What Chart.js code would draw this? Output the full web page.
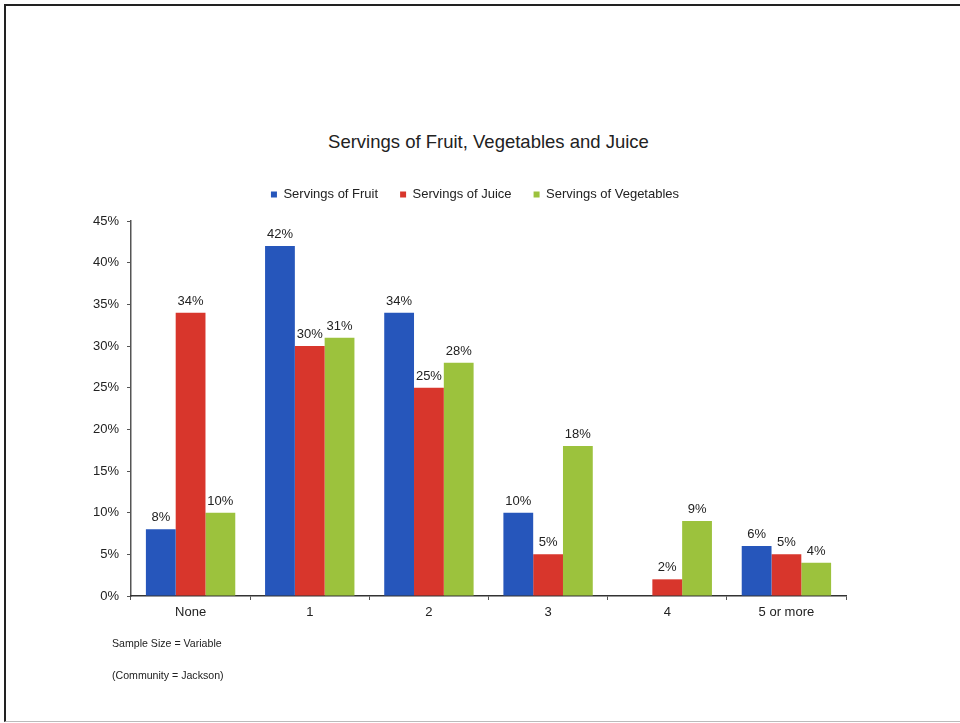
<!DOCTYPE html>
<html>
<head>
<meta charset="utf-8">
<script src="https://cdn.jsdelivr.net/npm/chart.js@4"></script>
<style>
  html, body { margin: 0; padding: 0; background: #fff; }
  body { width: 960px; height: 723px; position: relative; overflow: hidden; font-family: "Liberation Sans", Arial, sans-serif; }
  #frame { position: absolute; left: 4px; top: 4px; width: 960px; height: 715px; border-left: 2px solid #222; border-top: 2px solid #222; border-bottom: 1px solid #bbb; }
  #title { position: absolute; left: 0; width: 977px; top: 131px; text-align: center; font-size: 18.5px; color: #222; }
  .note { position: absolute; left: 112px; font-size: 10.6px; color: #222; }
  #wrap { position: absolute; left: 0; top: 0; width: 960px; height: 723px; }
</style>
</head>
<body>
<div id="frame"></div>
<div id="title">Servings of Fruit, Vegetables and Juice</div>
<div id="wrap"><canvas id="servingsChart" width="960" height="723"></canvas></div>
<div class="note" style="top:637px">Sample Size = Variable</div>
<div class="note" style="top:669px">(Community = Jackson)</div>
<script>
// ข้อมูลจากภาพ (ร้อยละ)
const categories = ["None", "1", "2", "3", "4", "5 or more"];
const fruitValues = [8, 42, 34, 10, null, 6];
const juiceValues = [34, 30, 25, 5, 2, 5];
const vegetableValues = [10, 31, 28, 18, 9, 4];
const yTicks = [0, 5, 10, 15, 20, 25, 30, 35, 40, 45];

const fontFamily = '"Liberation Sans", Arial, sans-serif';

// ป้ายตัวเลขเหนือแท่ง
const barLabels = {
    id: "barLabels",
    afterDatasetsDraw(chart) {
        const ctx = chart.ctx;
        ctx.save();
        ctx.font = "13px " + fontFamily;
        ctx.fillStyle = "#222";
        ctx.textAlign = "center";
        ctx.textBaseline = "bottom";
        chart.data.datasets.forEach((ds, i) => {
            chart.getDatasetMeta(i).data.forEach((bar, j) => {
                const v = ds.data[j];
                if (v == null) return;
                ctx.fillText(v + "%", bar.x, bar.y - 5);
            });
        });
        ctx.restore();
    }
};

// เว้นระยะใต้คำอธิบายสัญลักษณ์ และเลื่อนไปทางขวาเล็กน้อย
const legendGap = {
    id: "legendGap",
    beforeInit(chart) {
        const fit = chart.legend.fit;
        chart.legend.fit = function () {
            fit.call(this);
            this.height += 10;
        };
    },
    afterUpdate(chart) {
        chart.legend.left += 7;
        chart.legend.right += 7;
    }
};

new Chart(document.getElementById("servingsChart"), {
    type: "bar",
    data: {
        labels: categories,
        datasets: [
            { label: "Servings of Fruit", data: fruitValues, backgroundColor: "#2656bb" },
            { label: "Servings of Juice", data: juiceValues, backgroundColor: "#d8362c" },
            { label: "Servings of Vegetables", data: vegetableValues, backgroundColor: "#9cc23d" }
        ]
    },
    options: {
        responsive: false,
        animation: false,
        maintainAspectRatio: false,
        datasets: { bar: { barPercentage: 1, categoryPercentage: 0.75 } },
        layout: { padding: { left: 90, right: 114, top: 166, bottom: 101 } },
        plugins: {
            title: { display: false },
            tooltip: { enabled: false },
            legend: {
                position: "top",
                labels: {
                    boxWidth: 6,
                    boxHeight: 6,
                    padding: 22,
                    color: "#222",
                    font: { family: fontFamily, size: 13 }
                }
            }
        },
        scales: {
            y: {
                min: 0,
                max: 45,
                afterFit(scale) { scale.width = 41; },
                afterBuildTicks(scale) { scale.ticks = yTicks.map(v => ({ value: v })); },
                border: { color: "#555", width: 1.5 },
                grid: { drawOnChartArea: false, drawTicks: true, tickLength: 4, color: "#555" },
                ticks: {
                    padding: 8,
                    color: "#222",
                    font: { family: fontFamily, size: 13 },
                    callback: v => v + "%"
                }
            },
            x: {
                afterFit(scale) { scale.height = 26; },
                border: { color: "#333", width: 1.5 },
                grid: { drawOnChartArea: false, drawTicks: true, tickLength: 4, color: "#555" },
                ticks: {
                    padding: 5,
                    color: "#222",
                    font: { family: fontFamily, size: 13 }
                }
            }
        }
    },
    plugins: [barLabels, legendGap]
});
</script>
</body>
</html>
